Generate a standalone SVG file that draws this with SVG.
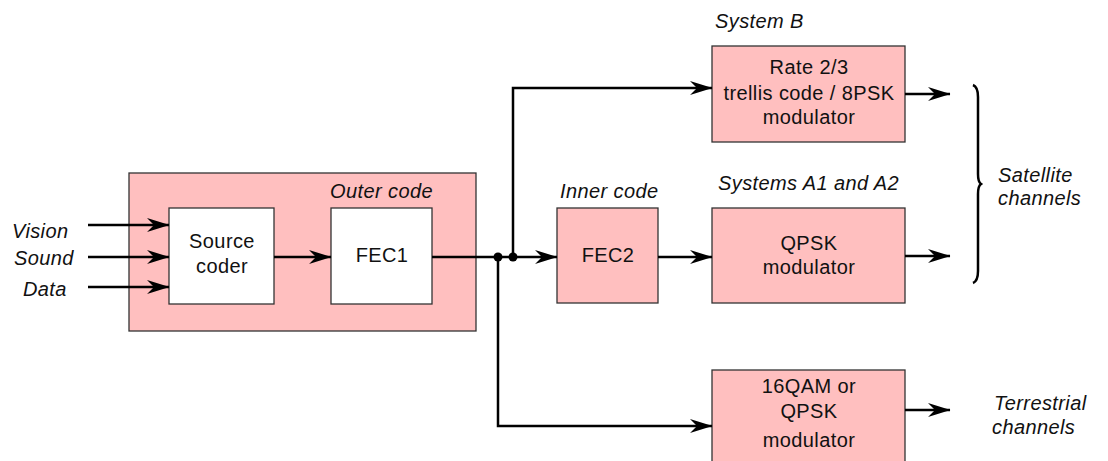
<svg xmlns="http://www.w3.org/2000/svg" width="1108" height="461" viewBox="0 0 1108 461">
<style>
.box{fill:#ffbfbf;stroke:#333;stroke-width:1.3}
.wbox{fill:#fff;stroke:#333;stroke-width:1.3}
.t{font-family:"Liberation Sans",Arial,sans-serif;font-size:20px;letter-spacing:0.4px;fill:#111}
.c{text-anchor:middle}
.i{font-style:italic}
.ln{fill:none;stroke:#000;stroke-width:2.5}
.a{marker-end:url(#ah)}
</style>
<defs>
<marker id="ah" markerUnits="userSpaceOnUse" markerWidth="26" markerHeight="18" viewBox="-23 -9 26 18" refX="0" refY="0" orient="auto">
<path d="M0.5,0 L-22,-7 L-15,0 L-22,7 Z" fill="#000"/>
</marker>
</defs>
<rect width="1108" height="461" fill="#fff"/>
<g id="outer">
<rect class="box" x="129" y="173" width="347" height="158"/>
<text class="t i" x="330" y="198">Outer code</text>
</g>
<g id="source">
<rect class="wbox" x="169" y="208" width="105" height="96"/>
<text class="t c" x="222" y="248">Source</text>
<text class="t c" x="222" y="273">coder</text>
</g>
<g id="fec1">
<rect class="wbox" x="331" y="208" width="101" height="96"/>
<text class="t c" x="382" y="262">FEC1</text>
</g>
<g id="fec2">
<rect class="box" x="557" y="208" width="101" height="95"/>
<text class="t c" x="608" y="262">FEC2</text>
<text class="t i" x="560" y="198">Inner code</text>
</g>
<g id="sysb">
<rect class="box" x="712" y="46" width="193" height="96"/>
<text class="t c" x="809" y="74">Rate 2/3</text>
<text class="t c" x="809" y="100">trellis code / 8PSK</text>
<text class="t c" x="809" y="124">modulator</text>
<text class="t i" x="715" y="28">System B</text>
</g>
<g id="qpsk">
<rect class="box" x="712" y="208" width="193" height="95"/>
<text class="t c" x="809" y="250">QPSK</text>
<text class="t c" x="809" y="274">modulator</text>
<text class="t i" x="718" y="190">Systems A1 and A2</text>
</g>
<g id="qam">
<rect class="box" x="712" y="370" width="193" height="92"/>
<text class="t c" x="809" y="393">16QAM or</text>
<text class="t c" x="809" y="418">QPSK</text>
<text class="t c" x="809" y="447">modulator</text>
</g>
<g id="labels">
<text class="t i" x="12" y="238">Vision</text>
<text class="t i" x="14" y="265">Sound</text>
<text class="t i" x="23" y="296">Data</text>
<text class="t i" x="998" y="182">Satellite</text>
<text class="t i" x="998" y="205">channels</text>
<text class="t i" x="994" y="410">Terrestrial</text>
<text class="t i" x="992" y="434">channels</text>
</g>
<g id="connectors">
<path class="ln a" d="M88,225 H169"/>
<path class="ln a" d="M88,257 H169"/>
<path class="ln a" d="M88,287 H169"/>
<path class="ln a" d="M274,257 H331"/>
<path class="ln a" d="M432,257 H557"/>
<path class="ln a" d="M513,257 V88 H712"/>
<path class="ln a" d="M498,257 V426 H712"/>
<path class="ln a" d="M658,257 H712"/>
<path class="ln a" d="M905,94 H950"/>
<path class="ln a" d="M905,256 H950"/>
<path class="ln a" d="M905,410 H950"/>
<circle cx="498" cy="257" r="4.5" fill="#000"/>
<circle cx="513" cy="257" r="4.5" fill="#000"/>
<path class="ln" d="M973,85 Q978,87 978,97 V174 Q978,182 981,184 Q978,186 978,194 V271 Q978,281 973,283"/>
</g>
</svg>
